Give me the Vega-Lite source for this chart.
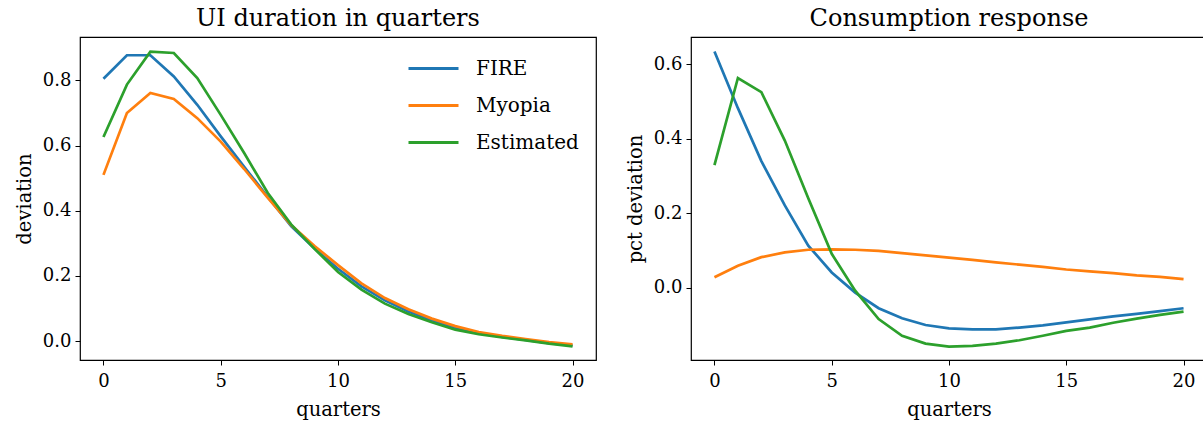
{
  "$schema": "https://vega.github.io/schema/vega-lite/v6.json",
  "background": "white",
  "padding": {"left": 13, "top": 6, "right": 0, "bottom": 0},
  "spacing": 27,
  "config": {
    "font": "DejaVu Serif",
    "view": {"stroke": "black", "strokeWidth": 1.2},
    "axis": {
      "domain": false, "grid": false, "ticks": true, "tickColor": "black", "tickSize": 5, "tickWidth": 1,
      "labelFont": "DejaVu Serif", "labelFontSize": 18, "labelColor": "black", "labelPadding": 4,
      "titleFont": "DejaVu Serif", "titleFontSize": 19.5, "titleFontWeight": "normal", "titleColor": "black"
    },
    "axisX": {"labelPadding": 7, "titlePadding": 10},
    "title": {"font": "DejaVu Serif", "fontSize": 24, "fontWeight": "normal", "color": "black", "offset": 6},
    "legend": {"labelFont": "DejaVu Serif", "labelFontSize": 20, "labelColor": "black"}
  },
  "datasets": {
    "ui": [
      {"q":0,"s":"FIRE","v":0.805},{"q":1,"s":"FIRE","v":0.877},{"q":2,"s":"FIRE","v":0.877},{"q":3,"s":"FIRE","v":0.812},{"q":4,"s":"FIRE","v":0.725},{"q":5,"s":"FIRE","v":0.628},{"q":6,"s":"FIRE","v":0.535},{"q":7,"s":"FIRE","v":0.443},{"q":8,"s":"FIRE","v":0.353},{"q":9,"s":"FIRE","v":0.284},{"q":10,"s":"FIRE","v":0.222},{"q":11,"s":"FIRE","v":0.168},{"q":12,"s":"FIRE","v":0.125},{"q":13,"s":"FIRE","v":0.091},{"q":14,"s":"FIRE","v":0.064},{"q":15,"s":"FIRE","v":0.041},{"q":16,"s":"FIRE","v":0.025},{"q":17,"s":"FIRE","v":0.013},{"q":18,"s":"FIRE","v":0.004},{"q":19,"s":"FIRE","v":-0.006},{"q":20,"s":"FIRE","v":-0.013},
      {"q":0,"s":"Myopia","v":0.510},{"q":1,"s":"Myopia","v":0.700},{"q":2,"s":"Myopia","v":0.761},{"q":3,"s":"Myopia","v":0.743},{"q":4,"s":"Myopia","v":0.684},{"q":5,"s":"Myopia","v":0.612},{"q":6,"s":"Myopia","v":0.528},{"q":7,"s":"Myopia","v":0.440},{"q":8,"s":"Myopia","v":0.356},{"q":9,"s":"Myopia","v":0.292},{"q":10,"s":"Myopia","v":0.233},{"q":11,"s":"Myopia","v":0.177},{"q":12,"s":"Myopia","v":0.132},{"q":13,"s":"Myopia","v":0.098},{"q":14,"s":"Myopia","v":0.069},{"q":15,"s":"Myopia","v":0.046},{"q":16,"s":"Myopia","v":0.028},{"q":17,"s":"Myopia","v":0.016},{"q":18,"s":"Myopia","v":0.006},{"q":19,"s":"Myopia","v":-0.003},{"q":20,"s":"Myopia","v":-0.010},
      {"q":0,"s":"Estimated","v":0.626},{"q":1,"s":"Estimated","v":0.787},{"q":2,"s":"Estimated","v":0.888},{"q":3,"s":"Estimated","v":0.884},{"q":4,"s":"Estimated","v":0.807},{"q":5,"s":"Estimated","v":0.694},{"q":6,"s":"Estimated","v":0.577},{"q":7,"s":"Estimated","v":0.455},{"q":8,"s":"Estimated","v":0.358},{"q":9,"s":"Estimated","v":0.283},{"q":10,"s":"Estimated","v":0.212},{"q":11,"s":"Estimated","v":0.158},{"q":12,"s":"Estimated","v":0.115},{"q":13,"s":"Estimated","v":0.083},{"q":14,"s":"Estimated","v":0.058},{"q":15,"s":"Estimated","v":0.035},{"q":16,"s":"Estimated","v":0.021},{"q":17,"s":"Estimated","v":0.011},{"q":18,"s":"Estimated","v":0.002},{"q":19,"s":"Estimated","v":-0.008},{"q":20,"s":"Estimated","v":-0.016}
    ],
    "cons": [
      {"q":0,"s":"FIRE","v":0.634},{"q":1,"s":"FIRE","v":0.482},{"q":2,"s":"FIRE","v":0.340},{"q":3,"s":"FIRE","v":0.221},{"q":4,"s":"FIRE","v":0.113},{"q":5,"s":"FIRE","v":0.041},{"q":6,"s":"FIRE","v":-0.013},{"q":7,"s":"FIRE","v":-0.055},{"q":8,"s":"FIRE","v":-0.082},{"q":9,"s":"FIRE","v":-0.100},{"q":10,"s":"FIRE","v":-0.109},{"q":11,"s":"FIRE","v":-0.112},{"q":12,"s":"FIRE","v":-0.112},{"q":13,"s":"FIRE","v":-0.107},{"q":14,"s":"FIRE","v":-0.101},{"q":15,"s":"FIRE","v":-0.093},{"q":16,"s":"FIRE","v":-0.085},{"q":17,"s":"FIRE","v":-0.077},{"q":18,"s":"FIRE","v":-0.070},{"q":19,"s":"FIRE","v":-0.063},{"q":20,"s":"FIRE","v":-0.055},
      {"q":0,"s":"Myopia","v":0.028},{"q":1,"s":"Myopia","v":0.059},{"q":2,"s":"Myopia","v":0.082},{"q":3,"s":"Myopia","v":0.095},{"q":4,"s":"Myopia","v":0.102},{"q":5,"s":"Myopia","v":0.103},{"q":6,"s":"Myopia","v":0.102},{"q":7,"s":"Myopia","v":0.099},{"q":8,"s":"Myopia","v":0.093},{"q":9,"s":"Myopia","v":0.087},{"q":10,"s":"Myopia","v":0.081},{"q":11,"s":"Myopia","v":0.075},{"q":12,"s":"Myopia","v":0.068},{"q":13,"s":"Myopia","v":0.062},{"q":14,"s":"Myopia","v":0.056},{"q":15,"s":"Myopia","v":0.049},{"q":16,"s":"Myopia","v":0.044},{"q":17,"s":"Myopia","v":0.039},{"q":18,"s":"Myopia","v":0.033},{"q":19,"s":"Myopia","v":0.029},{"q":20,"s":"Myopia","v":0.023},
      {"q":0,"s":"Estimated","v":0.329},{"q":1,"s":"Estimated","v":0.563},{"q":2,"s":"Estimated","v":0.525},{"q":3,"s":"Estimated","v":0.395},{"q":4,"s":"Estimated","v":0.240},{"q":5,"s":"Estimated","v":0.091},{"q":6,"s":"Estimated","v":-0.008},{"q":7,"s":"Estimated","v":-0.084},{"q":8,"s":"Estimated","v":-0.129},{"q":9,"s":"Estimated","v":-0.150},{"q":10,"s":"Estimated","v":-0.158},{"q":11,"s":"Estimated","v":-0.156},{"q":12,"s":"Estimated","v":-0.150},{"q":13,"s":"Estimated","v":-0.141},{"q":14,"s":"Estimated","v":-0.129},{"q":15,"s":"Estimated","v":-0.116},{"q":16,"s":"Estimated","v":-0.107},{"q":17,"s":"Estimated","v":-0.094},{"q":18,"s":"Estimated","v":-0.083},{"q":19,"s":"Estimated","v":-0.073},{"q":20,"s":"Estimated","v":-0.064}
    ]
  },
  "resolve": {"legend": {"color": "independent"}},
  "hconcat": [
    {
      "title": "UI duration in quarters",
      "width": 516, "height": 323,
      "layer": [
        {
          "mark": {"type": "rule", "color": "#808080", "strokeWidth": 2, "strokeDash": [2, 2.6]},
          "encoding": {"y": {"datum": 0, "type": "quantitative"}}
        },
        {
          "data": {"name": "ui"},
          "mark": {"type": "line", "strokeWidth": 2.7, "clip": true},
          "encoding": {
            "x": {"field": "q", "type": "quantitative", "scale": {"domain": [-1, 21], "nice": false, "zero": false},
                  "axis": {"values": [0, 5, 10, 15, 20], "title": "quarters"}},
            "y": {"field": "v", "type": "quantitative", "scale": {"domain": [-0.058, 0.933], "nice": false, "zero": false},
                  "axis": {"values": [0, 0.2, 0.4, 0.6, 0.8], "format": ".1f", "title": "deviation", "titlePadding": 8}},
            "color": {"field": "s", "type": "nominal",
                      "scale": {"domain": ["FIRE", "Myopia", "Estimated"], "range": ["#1f77b4", "#ff7f0e", "#2ca02c"]},
                      "legend": {"title": null, "orient": "none", "legendX": 327, "legendY": 5,
                                 "symbolType": "stroke", "symbolSize": 2500, "symbolStrokeWidth": 3,
                                 "labelOffset": 16, "rowPadding": -3.5, "symbolOffset": 0}}
          }
        }
      ]
    },
    {
      "title": "Consumption response",
      "width": 516, "height": 323,
      "layer": [
        {
          "mark": {"type": "rule", "color": "#808080", "strokeWidth": 2, "strokeDash": [2, 2.6]},
          "encoding": {"y": {"datum": 0, "type": "quantitative"}}
        },
        {
          "data": {"name": "cons"},
          "mark": {"type": "line", "strokeWidth": 2.7, "clip": true},
          "encoding": {
            "x": {"field": "q", "type": "quantitative", "scale": {"domain": [-1, 21], "nice": false, "zero": false},
                  "axis": {"values": [0, 5, 10, 15, 20], "title": "quarters"}},
            "y": {"field": "v", "type": "quantitative", "scale": {"domain": [-0.194, 0.673], "nice": false, "zero": false},
                  "axis": {"values": [0, 0.2, 0.4, 0.6], "format": ".1f", "title": "pct deviation", "titlePadding": 8}},
            "color": {"field": "s", "type": "nominal",
                      "scale": {"domain": ["FIRE", "Myopia", "Estimated"], "range": ["#1f77b4", "#ff7f0e", "#2ca02c"]},
                      "legend": null}
          }
        }
      ]
    }
  ]
}
